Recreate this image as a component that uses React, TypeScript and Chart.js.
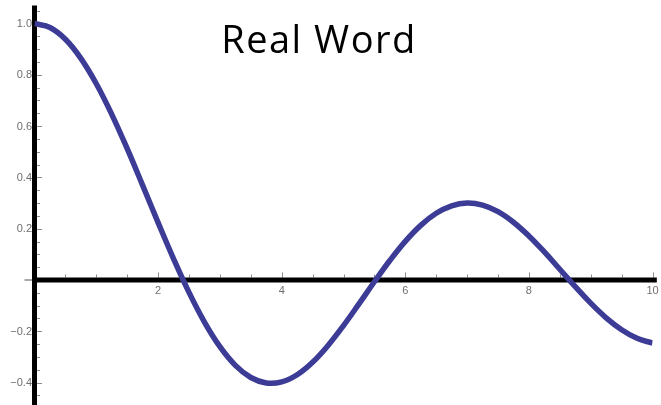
import { useEffect, useRef } from "react";
import { Chart, registerables } from "chart.js";

Chart.register(...registerables);

// Sampled curve, x from 0 to 10 in steps of 0.25
const xValues = [
  0, 0.25, 0.5, 0.75, 1, 1.25, 1.5, 1.75, 2, 2.25, 2.5, 2.75, 3, 3.25, 3.5, 3.75,
  4, 4.25, 4.5, 4.75, 5, 5.25, 5.5, 5.75, 6, 6.25, 6.5, 6.75, 7, 7.25, 7.5, 7.75,
  8, 8.25, 8.5, 8.75, 9, 9.25, 9.5, 9.75, 10,
];
const yValues = [
  1.0, 0.98438, 0.93847, 0.8642, 0.7652, 0.64588, 0.51183, 0.36904, 0.22389,
  0.08278, -0.04838, -0.16409, -0.26005, -0.3327, -0.38013, -0.40135, -0.39715,
  -0.36916, -0.32054, -0.2551, -0.1776, -0.09308, -0.00684, 0.07595, 0.15065,
  0.21305, 0.26009, 0.2894, 0.30008, 0.29195, 0.26634, 0.22521, 0.17165, 0.1092,
  0.04194, -0.02593, -0.09033, -0.14738, -0.19393, -0.2273, -0.24594,
];

const xTickValues = [2, 4, 6, 8, 10];
const xTickLabels = ["2", "4", "6", "8", "10"];
const yTickValues = [-0.4, -0.2, 0.2, 0.4, 0.6, 0.8, 1.0];
const yTickLabels = ["\u22120.4", "\u22120.2", "0.2", "0.4", "0.6", "0.8", "1.0"];
const titleText = "Real Word";

const LINE_COLOR = "rgb(60, 60, 150)";
const LABEL_COLOR = "#6f6f6f";
const TICK_COLOR = "#8c8c8c";

// Axes crossing at the origin, with inward tick marks
const crossAxesPlugin = {
  id: "crossAxes",
  beforeDatasetsDraw(chart: any) {
    const { ctx, scales } = chart;
    const xs = scales.x;
    const ys = scales.y;
    const x0 = xs.getPixelForValue(0);
    const y0 = ys.getPixelForValue(0);

    const seg = (a: number, b: number, c: number, d: number) => {
      ctx.beginPath();
      ctx.moveTo(a, b);
      ctx.lineTo(c, d);
      ctx.stroke();
    };

    ctx.save();
    ctx.strokeStyle = TICK_COLOR;
    ctx.lineWidth = 1;
    for (let i = 1; i <= 20; i++) {
      const px = Math.round(xs.getPixelForValue(i * 0.5)) + 0.5;
      const len = i % 4 === 0 ? 5 : 3;
      seg(px, y0 - 2.5, px, y0 - 2.5 - len);
    }
    for (let i = -9; i <= 21; i++) {
      if (i === 0) continue;
      const py = Math.round(ys.getPixelForValue(i * 0.05)) + 0.5;
      const len = i % 4 === 0 ? 5 : 3;
      seg(x0 + 2.5, py, x0 + 2.5 + len, py);
    }
    // zero mark left of the vertical axis
    ctx.lineWidth = 1.5;
    seg(x0 - 10, y0, x0 - 2, y0);

    ctx.strokeStyle = "#000";
    ctx.lineWidth = 5;
    ctx.lineCap = "butt";
    seg(x0, ys.getPixelForValue(1.07), x0, chart.height);
    seg(x0 - 2.5, y0, xs.getPixelForValue(10.07), y0);

    ctx.fillStyle = LABEL_COLOR;
    ctx.font = "11px 'Liberation Sans', Arial, sans-serif";
    ctx.textAlign = "center";
    ctx.textBaseline = "alphabetic";
    xTickValues.forEach((v, i) => {
      ctx.fillText(xTickLabels[i], xs.getPixelForValue(v), y0 + 13.5);
    });
    ctx.textAlign = "right";
    ctx.textBaseline = "middle";
    yTickValues.forEach((v, i) => {
      ctx.fillText(yTickLabels[i], x0 - 2.5, ys.getPixelForValue(v) + 0.5);
    });

    ctx.fillStyle = "#000";
    ctx.font = "38px 'Open Sans', sans-serif";
    (ctx as any).letterSpacing = "1.5px";
    ctx.textAlign = "center";
    ctx.textBaseline = "alphabetic";
    ctx.fillText(titleText, 319, 52.5);
    ctx.restore();
  },
};

export default function App() {
  const canvasRef = useRef<HTMLCanvasElement | null>(null);

  useEffect(() => {
    document.body.style.margin = "0";
    const canvas = canvasRef.current;
    if (!canvas) return;
    const chart = new Chart(canvas, {
      type: "line",
      data: {
        datasets: [
          {
            data: xValues.map((x, i) => ({ x, y: yValues[i] })),
            borderColor: LINE_COLOR,
            borderWidth: 5.5,
            pointRadius: 0,
            fill: false,
            tension: 0.4,
          },
        ],
      },
      options: {
        responsive: false,
        animation: false,
        devicePixelRatio: 1,
        layout: { padding: { left: 34.5, right: 8.5, top: 0, bottom: 0 } },
        plugins: { legend: { display: false }, tooltip: { enabled: false } },
        scales: {
          x: { type: "linear", min: 0, max: 10, display: false },
          y: { type: "linear", min: -0.4873, max: 1.0916, display: false },
        },
      },
      plugins: [crossAxesPlugin],
    });
    return () => chart.destroy();
  }, []);

  return (
    <div style={{ width: 661, height: 405, background: "#fff" }}>
      <canvas ref={canvasRef} width={661} height={405} />
    </div>
  );
}
